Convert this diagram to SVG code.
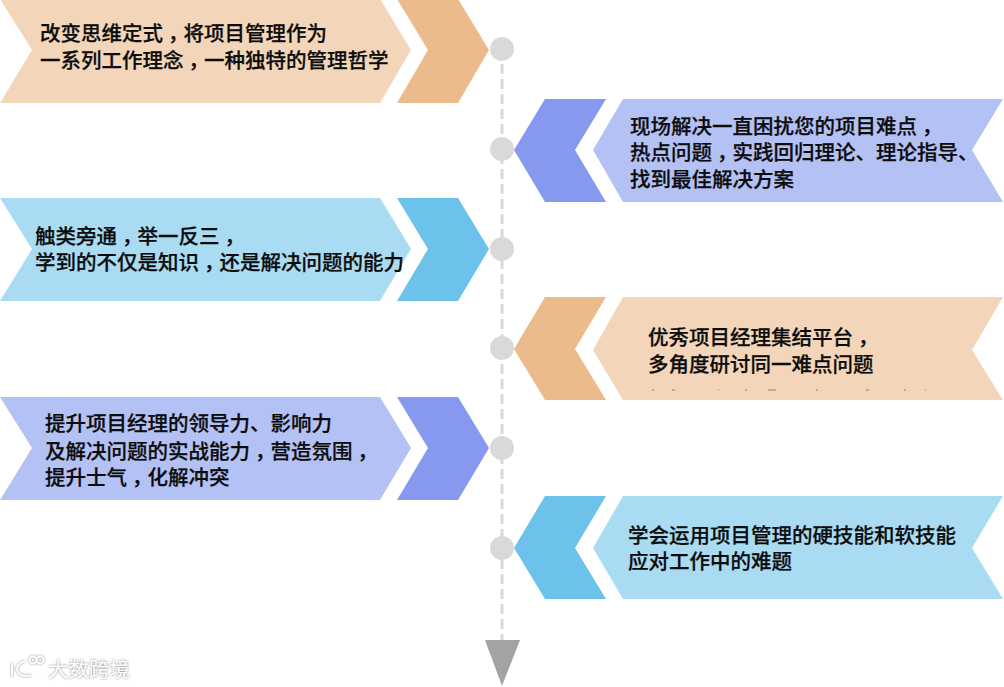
<svg xmlns="http://www.w3.org/2000/svg" width="1004" height="687" viewBox="0 0 1004 687">
<defs><filter id="soft" x="-10%" y="-30%" width="120%" height="160%"><feDropShadow dx="0" dy="0" stdDeviation="1.3" flood-color="#777" flood-opacity="1"/></filter></defs>
<style>
text{font-family:"Noto Sans CJK SC","Liberation Sans",sans-serif;font-size:20.5px;font-weight:500;fill:#0c0c0c;stroke:#0c0c0c;stroke-width:.25}
.c{font-feature-settings:"halt"}
.peach{fill:#f3d6ba}.peachd{fill:#ebbb8c}.blue{fill:#b4c1f5}.blued{fill:#8699ee}.sky{fill:#a9dcf3}.skyd{fill:#6cc2ea}
.dot{fill:#d9d9d9}
#wm{filter:url(#soft)}
#wm text{font-size:20.5px;font-weight:400;fill:#fff;stroke:none}
#wm path,#wm circle{fill:none;stroke:#fff;stroke-width:1.8}
</style>
<rect width="1004" height="687" fill="#fff"/>
<g id="connectors">
<line x1="502" y1="49" x2="502" y2="640" stroke="#d9d9d9" stroke-width="3" stroke-dasharray="10 5"/>
<polygon points="485,640 520,640 502,686" fill="#a3a3a3"/>
</g>
<g id="node1"><polygon class="peach" points="0,-1 380,-1 411,50 380,103 0,103 32,50"/><polygon class="peachd" points="397,-1 458,-1 489,50 458,103 397,103 428,50"/><circle class="dot" cx="502" cy="49" r="12"/>
<text x="40" y="41">改变思维定式<tspan class="c" dx="5.1">，</tspan><tspan dx="5.1">将</tspan>项目管理作为</text><text x="40" y="68">一系列工作理念<tspan class="c" dx="5.1">，</tspan><tspan dx="5.1">一</tspan>种独特的管理哲学</text></g>
<g id="node2"><polygon class="blued" points="514,150 545,99 606,99 575,150 606,202 545,202"/><polygon class="blue" points="593,150 623,99 1003,99 972,150 1003,202 623,202"/><circle class="dot" cx="502" cy="149" r="12"/>
<text x="630" y="134">现场解决一直困扰您的项目难点<tspan class="c" dx="5.1">，</tspan></text><text x="630" y="160">热点问题<tspan class="c" dx="5.1">，</tspan><tspan dx="5.1">实</tspan>践回归理论、理论指导、</text><text x="630" y="187">找到最佳解决方案</text></g>
<g id="node3"><polygon class="sky" points="0,198 380,198 411,249 380,301 0,301 32,249"/><polygon class="skyd" points="397,198 458,198 489,249 458,301 397,301 428,249"/><circle class="dot" cx="502" cy="249" r="12"/>
<text x="35" y="244">触类旁通<tspan class="c" dx="5.1">，</tspan><tspan dx="5.1">举</tspan>一反三<tspan class="c" dx="5.1">，</tspan></text><text x="35" y="270">学到的不仅是知识<tspan class="c" dx="5.1">，</tspan><tspan dx="5.1">还</tspan>是解决问题的能力</text></g>
<g id="node4"><polygon class="peachd" points="514,349 545,297 606,297 575,349 606,400 545,400"/><polygon class="peach" points="593,350 623,297 1003,297 972,350 1003,400 623,400"/><circle class="dot" cx="502" cy="348" r="12"/>
<text x="648" y="345">优秀项目经理集结平台<tspan class="c" dx="5.1">，</tspan></text><text x="648" y="372">多角度研讨同一难点问题</text>
<path d="M652 390h2M672 390h3M718 390h1M745 390h2M768 390h8M816 390h2M866 390h3M904 390h2M925 390h1" stroke="#8a8070" stroke-width="1" fill="none"/></g>
<g id="node5"><polygon class="blue" points="0,397 380,397 411,448 380,500 0,500 32,448"/><polygon class="blued" points="397,397 458,397 489,448 458,500 397,500 428,448"/><circle class="dot" cx="502" cy="448" r="12"/>
<text x="45" y="431">提升项目经理的领导力、影响力</text><text x="45" y="459">及解决问题的实战能力<tspan class="c" dx="5.1">，</tspan><tspan dx="5.1">营</tspan>造氛围<tspan class="c" dx="5.1">，</tspan></text><text x="45" y="485">提升士气<tspan class="c" dx="5.1">，</tspan><tspan dx="5.1">化</tspan>解冲突</text></g>
<g id="node6"><polygon class="skyd" points="514,548 545,496 606,496 575,548 606,599 545,599"/><polygon class="sky" points="593,548 623,496 1003,496 972,548 1003,599 623,599"/><circle class="dot" cx="502" cy="548" r="12"/>
<text x="628" y="543">学会运用项目管理的硬技能和软技能</text><text x="628" y="569">应对工作中的难题</text></g>
<g id="wm"><path d="M12 663V677M25 661Q16 664 17 670Q20 678 31 675"/><circle cx="33" cy="660" r="3.5"/><circle cx="40" cy="660" r="3.5"/><text x="48" y="677">大数跨境</text></g>
</svg>
